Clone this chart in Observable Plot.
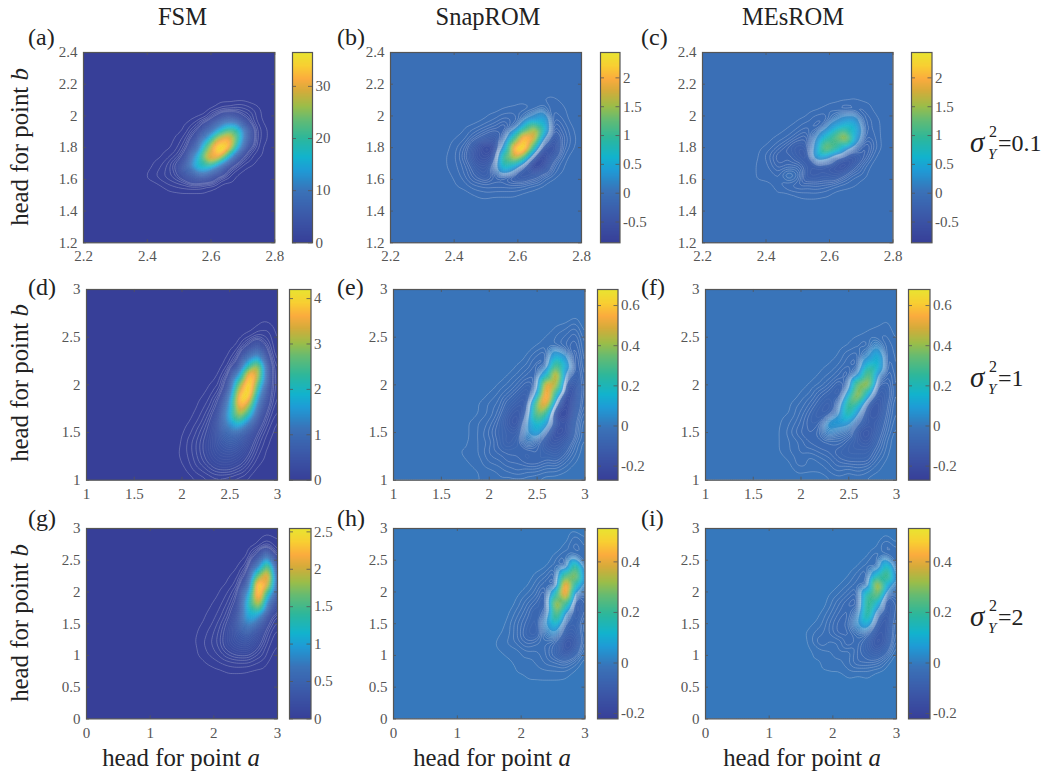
<!DOCTYPE html>
<html><head><meta charset="utf-8">
<script src="https://cdn.jsdelivr.net/npm/d3@7"></script>
<script src="https://cdn.jsdelivr.net/npm/@observablehq/plot@0.6"></script>
<style>
body{margin:0;background:#fff}
#root{position:relative;width:1045px;height:778px;overflow:hidden;font-family:"Liberation Serif",serif;color:#222}
#root svg{position:absolute;background:transparent}
.t{position:absolute;white-space:nowrap;line-height:1;transform:translate(-50%,-50%)}
.l{position:absolute;white-space:nowrap;line-height:1;transform:translateY(-50%);font-size:24px}
.s{position:absolute;left:0;top:0;white-space:nowrap;line-height:1}
</style></head><body><div id="root"></div>
<script>
const parula=["#373f98","#3b55a6","#3a72b8","#1f9bd6","#12b3ce","#2db79b","#66bb72","#9dbd48","#d6ab3a","#fbab3e","#f8cf32","#e9e530"];
const parulaAt=[0,.12,.27,.38,.45,.55,.65,.72,.8,.86,.93,1];
const ticksSmall=[2.2,2.4,2.6,2.8], ticksSmallY=[1.2,1.4,1.6,1.8,2,2.2,2.4];
const ticksMid=[1,1.5,2,2.5,3], ticksWideX=[0,1,2,3], ticksWideY=[0,.5,1,1.5,2,2.5,3];
// Grid sites are 21x21 over each axis range; each block gives rows top-down from topRow, columns from col0.
const fieldA=[
[0,0,0,0,0,0,0,.4,.8,1.2,1,.4,0],
[0,0,0,0,0,.2,.8,3,6,5,2,.5,0],
[0,0,0,0,.4,1.5,5,11,19,19,7,1,.2],
[0,0,0,.3,1.2,4,13,28,33,24,7,1,.2],
[0,0,.1,.6,2.2,8,25,37,36,18,3.5,.7,0],
[0,.1,.5,1.3,5,17,32,33,18,5,1,.3,0],
[.1,.5,1.2,3,9,19,19,10,3,.8,.2,0,0],
[.3,.8,1.2,2,4.5,6,5,2,.6,.1,0,0,0],
[0,.1,.5,.7,.8,.8,.4,.1,0,0,0,0,0]];
const fieldB=[
[0,0,0,0,0,0,0,0,0,0,-.02,-.03,-.01,0],
[0,0,0,0,0,0,-.02,-.03,-.05,-.02,.08,-.05,-.03,0],
[0,0,0,0,-.02,-.05,-.1,-.1,.05,.3,.6,-.1,-.05,0],
[0,0,-.02,-.05,-.1,-.15,-.25,0,.9,1.7,.9,-.2,-.1,-.02],
[0,-.02,-.05,-.15,-.25,-.35,-.1,1,2.4,2.1,.2,-.4,-.15,-.03],
[-.01,-.05,-.15,-.4,-.65,-.5,.4,2.3,2.6,1,-.4,-.5,-.12,-.02],
[-.02,-.06,-.2,-.45,-.5,-.3,1.3,1.9,1.1,-.25,-.6,-.3,-.05,0],
[-.02,-.05,-.12,-.3,-.35,0,.9,.45,-.25,-.65,-.45,-.1,-.02,0],
[-.01,-.03,-.1,-.2,-.3,-.15,-.15,-.3,-.35,-.25,-.1,-.03,0,0],
[0,-.02,-.04,-.08,-.1,-.1,-.1,-.1,-.08,-.04,-.01,0,0,0],
[0,0,0,-.02,-.03,-.02,-.02,-.02,0,0,0,0,0,0]];
const fieldC=[
[0,0,0,0,0,0,0,0,0,-.01,-.02,-.01,0,0],
[0,0,0,0,0,0,-.01,-.03,-.06,-.1,-.08,-.05,-.01,0],
[0,0,0,0,-.01,-.03,-.08,-.1,.1,.3,.35,-.08,-.04,0],
[0,0,0,-.02,-.05,-.1,-.12,.15,.6,.85,.7,-.05,-.05,0],
[0,-.01,-.03,-.06,-.15,-.2,.15,.8,1.3,1.9,.5,-.1,-.06,0],
[-.01,-.03,-.1,-.2,-.3,-.25,.35,1.6,1.1,.4,-.05,-.25,-.08,0],
[-.02,-.08,-.2,-.15,-.25,-.35,.5,.3,-.15,-.3,-.35,-.2,-.02,0],
[-.03,-.05,-.15,-.1,-.1,-.25,-.3,-.35,-.4,-.45,-.2,-.05,0,0],
[-.03,-.03,-.06,.1,0,-.3,-.3,-.25,-.3,-.15,-.05,-.02,0,0],
[0,-.01,-.03,-.1,-.12,-.1,-.12,-.1,-.05,-.03,-.02,0,0,0],
[0,0,-.02,0,-.02,-.03,-.03,-.02,0,0,0,0,0,0]];
const fieldD=[
[0,0,0,0,0,0,0,0,.03,.06,0],
[0,0,0,0,0,0,0,.04,.15,.1,0],
[0,0,0,0,0,0,.03,.25,.6,.15,0],
[0,0,0,0,0,.02,.15,.9,1.5,.25,0],
[0,0,0,0,0,.06,.4,2.2,3.2,.4,.02],
[0,0,0,0,.03,.2,1.5,4,3.2,.4,.03],
[0,0,0,.02,.07,.45,3,4.4,2.4,.35,.05],
[0,0,.01,.05,.15,1,3.8,4.3,1.6,.3,.06],
[0,0,.03,.1,.3,1.5,4,3.3,1,.25,.05],
[0,.01,.06,.17,.5,1.8,3.4,2.3,.6,.15,.04],
[0,.03,.1,.25,.65,1.5,2.1,1.2,.35,.1,0],
[.01,.06,.16,.3,.65,1,.95,.55,.2,.05,0],
[.02,.1,.2,.35,.6,.75,.65,.35,.12,.02,0],
[.03,.1,.2,.35,.5,.55,.45,.25,.07,0,0],
[.02,.08,.17,.28,.38,.38,.3,.15,.03,0,0],
[0,.05,.1,.17,.22,.22,.15,.06,0,0,0],
[0,0,.03,.06,.07,.05,.02,0,0,0,0]];
const fieldE=[
[0,0,0,0,0,0,0,0,0,0,0,0,0,-.01,0],
[0,0,0,0,0,0,0,0,0,0,0,-.01,-.015,-.03,0],
[0,0,0,0,0,0,0,0,0,0,-.01,-.02,-.03,-.05,-.005],
[0,0,0,0,0,0,0,0,0,-.01,-.02,-.02,-.04,-.06,-.01],
[0,0,0,0,0,0,0,0,-.01,-.03,-.05,.15,.06,-.08,-.01],
[0,0,0,0,0,0,0,-.01,-.02,-.05,-.04,.35,.15,-.09,-.01],
[0,0,0,0,0,0,-.01,-.02,-.04,-.06,.15,.62,0,-.1,-.02],
[0,0,0,0,0,-.01,-.02,-.04,-.07,-.05,.62,.5,-.12,-.12,-.02],
[0,0,0,0,-.01,-.02,-.04,-.07,-.1,.08,.68,.2,-.17,-.12,-.02],
[0,0,0,-.01,-.02,-.03,-.07,-.1,-.1,.42,.58,-.05,-.2,-.1,-.02],
[0,0,0,-.01,-.02,-.04,-.1,-.13,-.05,.4,.25,-.2,-.22,-.08,-.01],
[0,0,-.01,-.02,-.03,-.06,-.12,-.14,.04,.2,.1,-.12,-.15,-.06,0],
[0,0,-.01,-.02,-.04,-.07,-.09,-.1,.05,.14,-.05,-.17,-.15,-.05,0],
[0,-.006,-.01,-.02,-.03,-.06,-.1,-.07,.02,-.03,-.12,-.13,-.1,-.03,0],
[0,-.01,-.01,-.02,-.04,-.05,-.06,-.06,-.07,-.05,-.08,-.1,-.06,-.02,0],
[0,-.006,-.01,-.015,-.03,-.035,-.05,-.05,-.07,-.07,-.05,-.06,-.03,-.01,0],
[0,-.006,-.006,-.01,-.015,-.02,-.03,-.04,-.03,-.03,-.02,-.02,-.01,0,0],
[0,-.006,0,-.01,-.01,-.015,-.01,-.01,-.01,-.006,0,0,0,0,0]];
const fieldF=[
[0,0,0,0,0,0,0,0,0,0,0,0,0,-.008,0],
[0,0,0,0,0,0,0,0,0,0,0,-.006,-.01,-.015,0],
[0,0,0,0,0,0,0,0,0,-.005,-.01,-.015,-.02,-.02,-.005],
[0,0,0,0,0,0,0,0,-.005,-.01,-.02,-.03,.05,-.03,-.01],
[0,0,0,0,0,0,0,-.005,-.01,-.03,-.04,.03,.18,-.04,-.01],
[0,0,0,0,0,0,-.005,-.01,-.02,-.04,-.05,.2,.2,-.05,-.01],
[0,0,0,0,0,-.005,-.01,-.02,-.04,-.07,.03,.38,.03,-.06,-.015],
[0,0,0,0,-.005,-.01,-.02,-.04,-.08,-.03,.42,.5,-.07,-.07,-.015],
[0,0,0,0,-.01,-.02,-.05,-.07,-.1,.13,.5,.15,-.1,-.08,-.015],
[0,0,0,-.01,-.02,-.04,-.07,-.1,-.03,.33,.22,-.08,-.13,-.06,-.01],
[0,0,-.005,-.01,-.03,-.06,-.09,-.08,.03,.28,.05,-.12,-.13,-.05,-.01],
[0,0,-.01,-.02,-.04,-.07,-.06,.1,.1,.07,-.05,-.1,-.1,-.04,-.005],
[0,-.005,-.01,-.03,-.05,-.06,-.04,.04,0,-.02,-.12,-.14,-.08,-.03,0],
[0,-.005,-.01,-.02,-.03,-.05,-.06,-.05,-.04,-.07,-.1,-.12,-.06,-.015,0],
[0,-.005,-.01,-.02,-.03,-.03,-.04,-.05,-.07,-.08,-.08,-.08,-.04,-.01,0],
[0,-.005,-.005,-.01,-.03,-.01,-.02,-.03,-.05,-.06,-.06,-.06,-.02,-.005,0],
[-.005,0,0,-.005,-.01,-.01,-.01,-.02,-.03,-.02,-.03,-.02,-.01,0,0],
[0,0,0,-.006,-.006,0,0,-.006,-.01,-.006,-.006,-.005,0,0,0]];
const fieldG=[
[0,0,0,0,0,0,0,0,.02,.01],
[0,0,0,0,0,0,0,.02,.1,.02],
[0,0,0,0,0,0,.01,.2,.8,.04],
[0,0,0,0,0,.01,.06,.7,1.9,.08],
[0,0,0,0,.01,.03,.2,1.8,2.5,.1],
[0,0,0,.005,.02,.07,.5,2.75,2.1,.12],
[0,0,0,.015,.05,.15,1.1,2.7,1.1,.12],
[0,0,.01,.03,.08,.22,1.4,2.1,.55,.1],
[0,.005,.02,.05,.12,.33,1.2,1.1,.25,.07],
[0,.01,.03,.08,.18,.42,.85,.5,.14,.04],
[0,.02,.05,.1,.22,.38,.45,.25,.08,.02],
[0,.03,.06,.11,.22,.3,.32,.18,.05,.01],
[0,.02,.05,.08,.14,.18,.18,.1,.03,0],
[0,.005,.02,.04,.06,.07,.07,.04,.01,0],
[0,0,0,.005,.015,.015,.01,.005,0,0]];
const fieldH=[
[0,0,0,0,0,0,0,0,0,0,-.02,-.005],
[0,0,0,0,0,0,0,0,0,-.01,-.03,-.01],
[0,0,0,0,0,0,0,0,-.01,-.03,-.01,-.02],
[0,0,0,0,0,0,0,-.005,-.02,-.05,.27,-.03],
[0,0,0,0,0,0,-.01,-.02,-.05,.27,.38,-.03],
[0,0,0,0,0,-.005,-.02,-.04,-.06,.55,.15,-.04],
[0,0,0,0,-.005,-.015,-.03,-.07,.2,.5,-.05,-.04],
[0,0,0,0,-.01,-.03,-.05,-.08,.43,.2,-.12,-.03],
[0,0,0,-.005,-.02,-.04,-.07,-.03,.3,0,-.1,-.02],
[0,0,0,-.01,-.03,-.05,-.07,.04,.15,-.06,-.07,-.01],
[0,0,-.005,-.01,-.03,-.06,-.07,0,.03,-.08,-.08,-.01],
[0,0,-.01,-.015,-.025,-.04,-.03,-.03,-.05,-.12,-.1,-.01],
[0,0,-.005,-.01,-.01,-.02,-.02,-.03,-.06,-.11,-.07,-.005],
[0,0,0,-.005,-.01,-.01,-.015,-.025,-.03,-.04,-.02,0],
[-.007,0,0,0,-.008,-.01,-.01,-.012,-.012,-.012,-.005,0],
[0,0,0,0,0,-.006,-.006,-.006,-.006,-.005,0,0]];
const fieldI=[
[0,0,0,0,0,0,0,0,0,-.01,0],
[0,0,0,0,0,0,0,0,-.006,-.03,-.01],
[0,0,0,0,0,0,0,-.006,-.025,-.01,-.02],
[0,0,0,0,0,0,-.006,-.02,-.04,.2,-.03],
[0,0,0,0,0,-.006,-.02,-.04,.16,.3,-.03],
[0,0,0,0,-.006,-.015,-.03,-.03,.46,.08,-.04],
[0,0,0,-.006,-.015,-.03,-.05,.23,.32,-.05,-.03],
[0,0,0,-.01,-.03,-.05,-.06,.27,.1,-.1,-.03],
[0,0,-.006,-.02,-.04,-.05,0,.25,-.03,-.1,-.02],
[0,-.004,-.01,-.03,-.05,-.04,.04,.12,-.08,-.1,-.01],
[-.004,-.01,-.02,-.03,-.05,-.05,-.02,-.03,-.1,-.09,-.01],
[0,-.01,-.03,-.02,-.02,-.05,-.03,-.07,-.12,-.08,-.005],
[0,-.006,-.008,-.012,-.02,-.015,-.04,-.06,-.08,-.05,0],
[0,-.006,-.006,-.01,-.012,-.02,-.04,-.04,-.035,-.01,0],
[0,0,-.006,-.006,-.006,-.012,-.012,-.012,-.006,0,0],
[0,0,0,-.005,0,-.005,0,-.005,0,0,0]];

const px=[[82.7,274,292,311],[390,581,599.5,618],[701.5,892,910.5,930],
          [85.5,276.5,288.5,309],[392.5,584,596.5,616],[704.5,895.5,907.5,928],
          [85.5,276.5,288.5,309],[392.5,584,596.5,616],[704.5,895.5,907.5,928]];
const py=[[52,242.3],[289.3,480],[528.3,718.7]];
const rowAxes=[
 {xd:[2.2,2.8],yd:[1.2,2.4],xt:ticksSmall,yt:ticksSmallY},
 {xd:[1,3],yd:[1,3],xt:ticksMid,yt:ticksMid},
 {xd:[0,3],yd:[0,3],xt:ticksWideX,yt:ticksWideY}];
const panels=[
 {f:fieldA,col0:7,top:14,c:[0,36.5],ct:[0,10,20,30]},
 {f:fieldB,col0:6,top:15,c:[-.86,2.44],ct:[-.5,0,.5,1,1.5,2]},
 {f:fieldC,col0:6,top:15,c:[-.86,2.44],ct:[-.5,0,.5,1,1.5,2]},
 {f:fieldD,col0:10,top:16,c:[0,4.2],ct:[0,1,2,3,4]},
 {f:fieldE,col0:6,top:17,c:[-.27,.68],ct:[-.2,0,.2,.4,.6]},
 {f:fieldF,col0:6,top:17,c:[-.27,.68],ct:[-.2,0,.2,.4,.6]},
 {f:fieldG,col0:11,top:19,c:[0,2.545],ct:[0,.5,1,1.5,2,2.5]},
 {f:fieldH,col0:9,top:19,c:[-.221,.532],ct:[-.2,0,.2,.4]},
 {f:fieldI,col0:10,top:19,c:[-.221,.532],ct:[-.2,0,.2,.4]}];

const root=document.getElementById("root");
const N=21, INK="#555", LABEL="#555";
const font={fontFamily:"Liberation Serif",fontSize:"15px",color:LABEL,background:"transparent",overflow:"visible"};
const ml=44,mr=8,mt=6,mb=26;
function sites(p,ax){
  const g=new Float64Array(N*N);
  p.f.forEach((r,k)=>r.forEach((v,i)=>{g[(p.top-k)*N+p.col0+i]=v;}));
  const out=[];
  for(let j=0;j<N;j++)for(let i=0;i<N;i++)out.push({
    a:ax.xd[0]+i*(ax.xd[1]-ax.xd[0])/(N-1),
    b:ax.yd[0]+j*(ax.yd[1]-ax.yd[0])/(N-1),
    v:g[j*N+i]});
  return out;
}
function colorOf(c){
  return {type:"linear",domain:parulaAt.map(t=>c[0]+t*(c[1]-c[0])),range:parula,clamp:true};
}
function place(svg,x,y){svg.style.left=x+"px";svg.style.top=y+"px";root.appendChild(svg);}
function innerTicks(ticks,dim,h){
  const opt={stroke:INK,strokeWidth:.8};
  return dim==="x"
   ?[Plot.tickX(ticks,{x:d=>d,insetTop:h-3,...opt}),Plot.tickX(ticks,{x:d=>d,insetBottom:h-3,...opt})]
   :[Plot.tickY(ticks,{y:d=>d,insetRight:h-3,...opt}),Plot.tickY(ticks,{y:d=>d,insetLeft:h-3,...opt})];
}
panels.forEach((p,n)=>{
  const [x0,x1,c0,c1]=px[n], [y0,y1]=py[Math.floor(n/3)], ax=rowAxes[Math.floor(n/3)];
  const w=x1-x0,h=y1-y0;
  const span=p.c[1]-p.c[0];
  const levels=d3.range(100).map(i=>p.c[0]+(i+.5)*span/100);
  const base=p.c[0]<0?0:p.c[0];
  const outer=levels.filter(l=>Math.abs(l-base)<.06*span);
  const pts=sites(p,ax);
  const field={x:"a",y:"b",interpolate:"barycentric",pixelSize:2,blur:1,clip:true};
  const svg=Plot.plot({width:w+ml+mr,height:h+mt+mb,marginLeft:ml,marginRight:mr,marginTop:mt,marginBottom:mb,style:font,
    x:{domain:ax.xd},y:{domain:ax.yd},color:colorOf(p.c),
    marks:[
      Plot.frame({fill:d3.scaleLinear().domain(parulaAt.map(t=>p.c[0]+t*(p.c[1]-p.c[0]))).range(parula)(base),stroke:"none"}),
      Plot.contour(pts,{...field,fill:"v",thresholds:levels,stroke:"#fff",strokeOpacity:.13,strokeWidth:.5}),
      Plot.contour(pts,{...field,value:"v",thresholds:outer,fill:"none",stroke:"#fff",strokeOpacity:.3,strokeWidth:.6}),
      ...innerTicks(ax.xt,"x",h),...innerTicks(ax.yt,"y",w),
      Plot.frame({stroke:INK,strokeWidth:1.2}),
      Plot.axisX(ax.xt,{tickSize:0,tickPadding:8,tickFormat:String,label:null,fill:LABEL}),
      Plot.axisY(ax.yt,{tickSize:0,tickPadding:6,tickFormat:String,label:null,fill:LABEL})
    ]});
  place(svg,x0-ml,y0-mt);
  const bw=c1-c0;
  const ramp=d3.range(256).map(i=>p.c[0]+(i+.5)*span/256);
  const cb=Plot.plot({width:bw+2+34,height:h+mt+mb,marginLeft:1,marginRight:34,marginTop:mt,marginBottom:mb,style:font,
    x:{domain:[0,1],axis:null},y:{domain:p.c},color:colorOf(p.c),
    marks:[
      Plot.raster(ramp,{width:1,height:256,x1:0,x2:1,y1:p.c[0],y2:p.c[1],fill:Plot.identity,imageRendering:"auto"}),
      ...innerTicks(p.ct,"y",bw),
      Plot.frame({stroke:INK,strokeWidth:1.2}),
      Plot.axisY(p.ct,{anchor:"right",tickSize:0,tickPadding:3,tickFormat:String,label:null,fill:LABEL})
    ]});
  place(cb,c0-1,y0-mt);
});
function text(cls,html,x,y,size,extra){
  const d=document.createElement("div");d.className=cls;d.innerHTML=html;
  d.style.left=x+"px";d.style.top=y+"px";if(size)d.style.fontSize=size+"px";if(extra)d.style.transform=extra;
  root.appendChild(d);return d;
}
[["FSM",182.5],["SnapROM",488],["MEsROM",793]].forEach(([s,x])=>text("t",s,x,17,24.5));
[["(a)",28,37],["(b)",337,37],["(c)",641,37],["(d)",28,287],["(e)",337,287],["(f)",641,287],["(g)",28,518],["(h)",337,518],["(i)",641,518]]
 .forEach(([s,x,y])=>text("l",s,x,y));
[147,383,623].forEach(y=>text("t","head for point <i>b</i>",20,y,24.8,"translate(-50%,-50%) rotate(-90deg)"));
[181,492,802].forEach(x=>text("t","head for point <i>a</i>",x,758,24.8));
[["0.1",143],["1",378],["2",617]].forEach(([v,y])=>{
  const w=document.createElement("div");w.style.cssText=`position:absolute;left:970px;top:${y-20}px;width:75px;height:40px;`;
  w.innerHTML=`<span class="s" style="font-size:29px;top:5px;font-style:italic">σ</span>
  <span class="s" style="font-size:16px;left:19px;top:1px">2</span>
  <span class="s" style="font-size:15px;left:18px;top:24px;font-style:italic">Y</span>
  <span class="s" style="font-size:24px;left:28px;top:8px">=${v}</span>`;
  root.appendChild(w);
});
</script></body></html>
